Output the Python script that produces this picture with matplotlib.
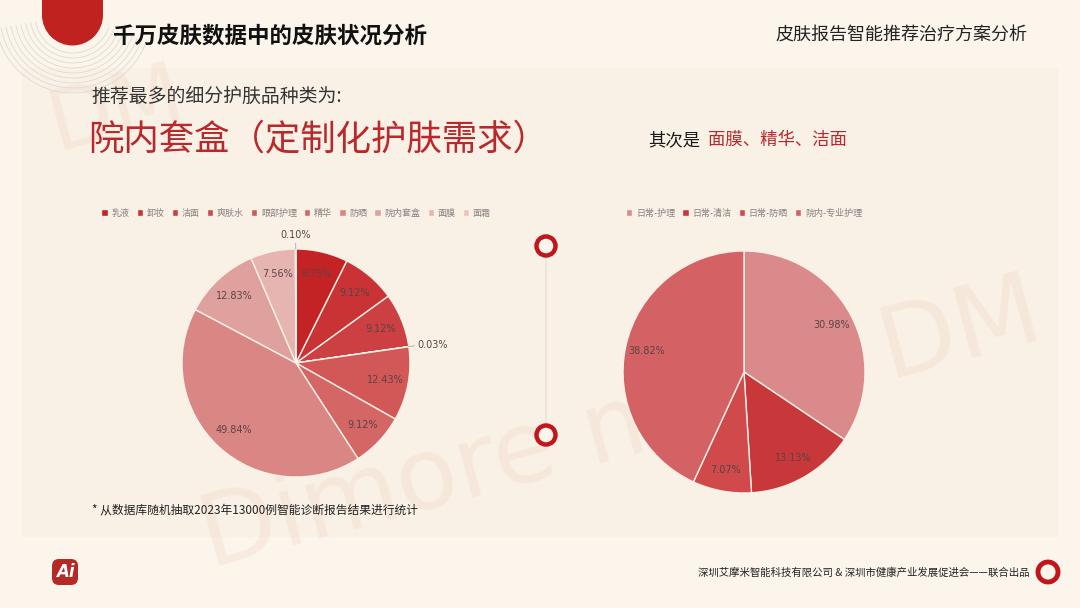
import matplotlib
matplotlib.use("Agg")
import matplotlib.pyplot as plt
from matplotlib.patches import FancyBboxPatch, Circle, Rectangle, Arc, Wedge
import numpy as np

plt.rcParams['font.family'] = ['Noto Sans CJK SC', 'DejaVu Sans']

# left pie: care product categories (values as printed on the slide)
left_cats = ["乳液", "卸妆", "洁面", "爽肤水", "眼部护理", "精华", "防晒", "院内套盒", "面膜", "面霜"]
left_vals = [8.75, 9.12, 9.12, 0.03, 12.43, 9.12, 49.84, 12.83, 7.56, 0.10]
left_colors = ["#c42326", "#c93335", "#cc4043", "#cf4a4c", "#d25857", "#d46766",
               "#da8684", "#dea19e", "#e6b5b2", "#ebc2bf"]

# right pie: care type
right_cats = ["日常-护理", "日常-清洁", "日常-防晒", "院内-专业护理"]
right_vals = [30.98, 13.13, 7.07, 38.82]
right_colors = ["#da8a8a", "#c8373a", "#d04a4c", "#d46164"]

W, H = 1080, 608
bg = "#fbf5ec"
red = "#c0161c"

fig = plt.figure(figsize=(W / 100, H / 100), dpi=100, facecolor=bg)

# background layer in pixel coords
bga = fig.add_axes([0, 0, 1, 1])
bga.set_xlim(0, W)
bga.set_ylim(H, 0)
bga.axis("off")
bga.set_facecolor(bg)

# content panel
bga.add_patch(Rectangle((22, 68), 1036, 469, facecolor="#f9f1e6", edgecolor="none", zorder=0))

# faint watermark
wm = dict(color="#f2d2c3", alpha=0.3, family="DejaVu Sans", zorder=0.5)
bga.text(40, 110, "DM", fontsize=60, rotation=15, ha="left", va="center", **wm)
bga.text(470, 470, "Dimore me", fontsize=72, rotation=15, ha="center", va="center", **wm)
bga.text(960, 330, "DM", fontsize=72, rotation=15, ha="center", va="center", **wm)

# top-left decoration: concentric arcs + red drop
for r in range(38, 80, 5):
    bga.add_patch(Arc((73, 15), 2 * r, 2 * r, theta1=20, theta2=170, color="#dedad3", lw=0.6, zorder=1))
bga.add_patch(Rectangle((42, -5), 61, 20, facecolor="#c0221f", edgecolor="none", zorder=2))
bga.add_patch(Wedge((72.5, 15), 30.5, 0, 180, facecolor="#c0221f", edgecolor="none", zorder=2))

# header texts
bga.text(113, 36, "千万皮肤数据中的皮肤状况分析", fontsize=16.2, fontweight="bold",
         color="#111111", ha="left", va="center", zorder=3)
bga.text(1027, 36, "皮肤报告智能推荐治疗方案分析", fontsize=13, color="#222222",
         ha="right", va="center", zorder=3)

bga.text(91, 96, "推荐最多的细分护肤品种类为:", fontsize=13.6, color="#333333",
         ha="left", va="center", zorder=3)
bga.text(88, 140, "院内套盒（定制化护肤需求）", fontsize=25.5, color="#b9282b",
         ha="left", va="center", zorder=3)
bga.text(648, 140, "其次是", fontsize=12.5, color="#1a1a1a", fontweight="medium",
         ha="left", va="center", zorder=3)
bga.text(708, 140, "面膜、精华、洁面", fontsize=12.5, color="#b9282b",
         ha="left", va="center", zorder=3)

# divider between pies
bga.plot([546, 546], [246, 435], color="#ece2d8", lw=1.2, zorder=2)
for yy in (246, 435):
    bga.add_patch(Circle((546, yy), 9.5, facecolor="#fbf5ec", edgecolor=red, lw=3.2, zorder=3))

# footnote and footer
bga.text(92, 510, "* 从数据库随机抽取2023年13000例智能诊断报告结果进行统计", fontsize=8.5,
         color="#222222", ha="left", va="center", zorder=3)
bga.text(1030, 573, "深圳艾摩米智能科技有限公司 & 深圳市健康产业发展促进会——联合出品", fontsize=7.5,
         color="#222222", ha="right", va="center", zorder=3)
bga.add_patch(Circle((1048, 572), 10, facecolor=bg, edgecolor=red, lw=3.5, zorder=3))
bga.add_patch(FancyBboxPatch((52, 559), 26, 26, boxstyle="round,pad=0,rounding_size=7",
                             facecolor="#b42a26", edgecolor="none", zorder=3))
bga.text(65, 572, "Ai", fontsize=12, fontweight="bold", style="italic", color="white",
         ha="center", va="center", family="DejaVu Sans", zorder=4)


def pie_axes(cx, cy, r):
    ax = fig.add_axes([(cx - r) / W, (H - cy - r) / H, 2 * r / W, 2 * r / H])
    ax.set_facecolor("none")
    return ax


def draw_pie(ax, vals, colors, cats, pctdist, legend_y):
    total = sum(vals)
    wedges, _, autotexts = ax.pie(
        vals, colors=colors, startangle=90, counterclock=False,
        autopct=lambda p: f"{p * total / 100:.2f}%" if p * total / 100 >= 1 else "",
        pctdistance=pctdist,
        wedgeprops=dict(edgecolor="#fbf1e6", linewidth=1.0),
        textprops=dict(fontsize=7, color="#5a4444", family="DejaVu Sans"))
    # outside labels for very small slices
    for w, v in zip(wedges, vals):
        if v >= 1:
            continue
        ang = np.deg2rad((w.theta1 + w.theta2) / 2)
        c, s = np.cos(ang), np.sin(ang)
        ax.plot([c * 1.0, c * 1.05], [s * 1.0, s * 1.05], color="#aaaaaa", lw=0.6, clip_on=False)
        if abs(c) < 0.3:
            ha, va = "center", ("bottom" if s > 0 else "top")
        else:
            ha, va = ("left" if c > 0 else "right"), "center"
        ax.text(c * 1.08, s * 1.08, f"{v:.2f}%", ha=ha, va=va, fontsize=7,
                color="#5a4444", family="DejaVu Sans")
    ax.set_xlim(-1, 1)
    ax.set_ylim(-1, 1)
    ax.set_aspect("equal")
    ax.legend(wedges, cats, loc="center", bbox_to_anchor=(0.5, legend_y), ncol=len(cats),
              frameon=False, fontsize=6.5, handlelength=0.7, handleheight=0.7,
              handletextpad=0.4, columnspacing=0.8, labelcolor="#8a8080")


axl = pie_axes(296, 363, 114)
draw_pie(axl, left_vals, left_colors, left_cats, 0.8, 0.5 + 150 / 228)

axr = pie_axes(744, 372, 121)
draw_pie(axr, right_vals, right_colors, right_cats, 0.82, 0.5 + 159 / 242)

plt.savefig("out.png", dpi=100, facecolor=bg)
